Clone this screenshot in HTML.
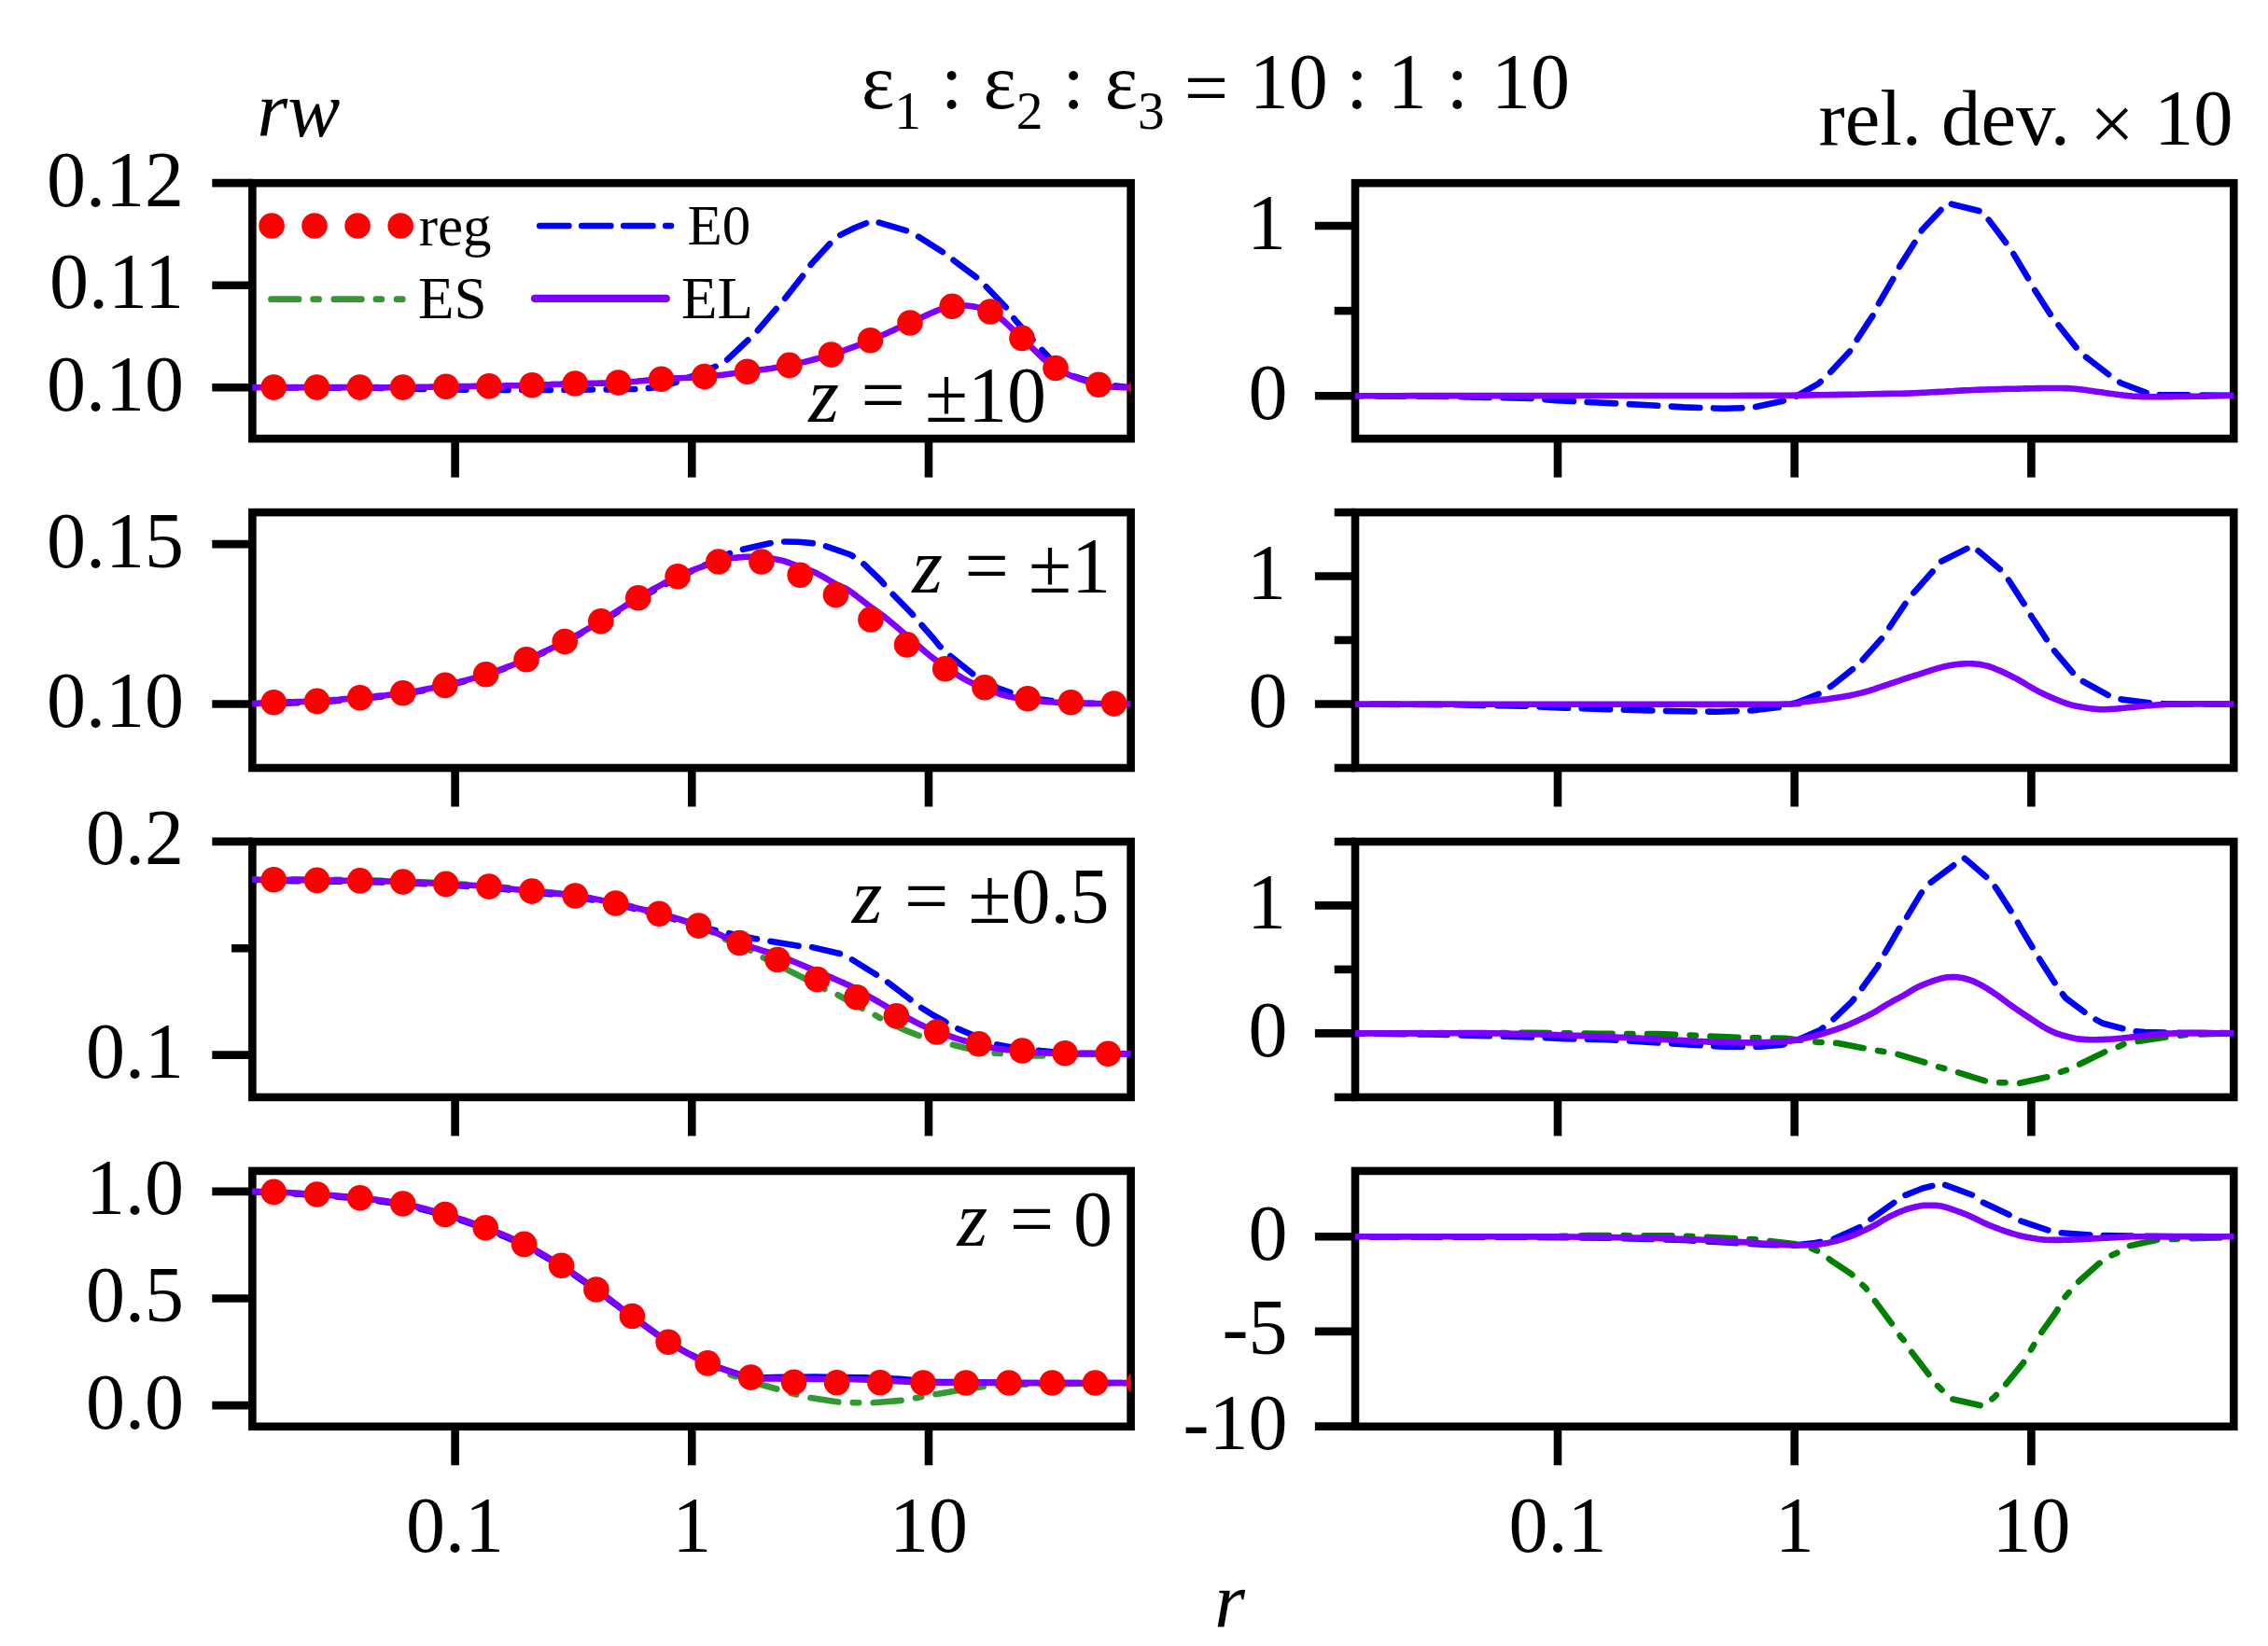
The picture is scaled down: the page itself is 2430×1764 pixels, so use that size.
<!DOCTYPE html><html><head><meta charset="utf-8"><title>rw</title>
<style>html,body{margin:0;padding:0;background:#fff;overflow:hidden}svg{display:block}text{font-family:"Liberation Serif",serif;fill:#000}.i{font-style:italic}</style></head><body>
<svg width="2430" height="1764" viewBox="0 0 2430 1764">
<rect width="2430" height="1764" fill="#fff"/>
<clipPath id="c00"><rect x="270.4" y="196.2" width="941.2" height="273.9"/></clipPath>
<clipPath id="c01"><rect x="1452.0" y="196.2" width="941.3" height="273.9"/></clipPath>
<clipPath id="c10"><rect x="270.4" y="549.1" width="941.2" height="273.9"/></clipPath>
<clipPath id="c11"><rect x="1452.0" y="549.1" width="941.3" height="273.9"/></clipPath>
<clipPath id="c20"><rect x="270.4" y="902.0" width="941.2" height="273.9"/></clipPath>
<clipPath id="c21"><rect x="1452.0" y="902.0" width="941.3" height="273.9"/></clipPath>
<clipPath id="c30"><rect x="270.4" y="1254.9" width="941.2" height="273.9"/></clipPath>
<clipPath id="c31"><rect x="1452.0" y="1254.9" width="941.3" height="273.9"/></clipPath>
<line x1="487.6" y1="470.1" x2="487.6" y2="511.6" stroke="#000" stroke-width="8.6"/>
<line x1="741.3" y1="470.1" x2="741.3" y2="511.6" stroke="#000" stroke-width="8.6"/>
<line x1="995.0" y1="470.1" x2="995.0" y2="511.6" stroke="#000" stroke-width="8.6"/>
<line x1="227.3" y1="196.1" x2="270.4" y2="196.1" stroke="#000" stroke-width="8.6"/>
<text x="196.9" y="220.6" font-size="84.0" text-anchor="end">0.12</text>
<line x1="227.3" y1="305.7" x2="270.4" y2="305.7" stroke="#000" stroke-width="8.6"/>
<text x="196.9" y="330.2" font-size="84.0" text-anchor="end">0.11</text>
<line x1="227.3" y1="415.3" x2="270.4" y2="415.3" stroke="#000" stroke-width="8.6"/>
<text x="196.9" y="439.8" font-size="84.0" text-anchor="end">0.10</text>
<line x1="1669.0" y1="470.1" x2="1669.0" y2="511.6" stroke="#000" stroke-width="8.6"/>
<line x1="1922.7" y1="470.1" x2="1922.7" y2="511.6" stroke="#000" stroke-width="8.6"/>
<line x1="2176.4" y1="470.1" x2="2176.4" y2="511.6" stroke="#000" stroke-width="8.6"/>
<line x1="1408.9" y1="242.0" x2="1452.0" y2="242.0" stroke="#000" stroke-width="8.6"/>
<text x="1378.0" y="266.5" font-size="84.0" text-anchor="end">1</text>
<line x1="1429.7" y1="333.1" x2="1452.0" y2="333.1" stroke="#000" stroke-width="8.6"/>
<line x1="1408.9" y1="424.2" x2="1452.0" y2="424.2" stroke="#000" stroke-width="8.6"/>
<text x="1379.5" y="448.7" font-size="84.0" text-anchor="end">0</text>
<line x1="487.6" y1="823.0" x2="487.6" y2="864.5" stroke="#000" stroke-width="8.6"/>
<line x1="741.3" y1="823.0" x2="741.3" y2="864.5" stroke="#000" stroke-width="8.6"/>
<line x1="995.0" y1="823.0" x2="995.0" y2="864.5" stroke="#000" stroke-width="8.6"/>
<line x1="227.3" y1="583.1" x2="270.4" y2="583.1" stroke="#000" stroke-width="8.6"/>
<text x="196.9" y="607.6" font-size="84.0" text-anchor="end">0.15</text>
<line x1="227.3" y1="754.5" x2="270.4" y2="754.5" stroke="#000" stroke-width="8.6"/>
<text x="196.9" y="779.0" font-size="84.0" text-anchor="end">0.10</text>
<line x1="1669.0" y1="823.0" x2="1669.0" y2="864.5" stroke="#000" stroke-width="8.6"/>
<line x1="1922.7" y1="823.0" x2="1922.7" y2="864.5" stroke="#000" stroke-width="8.6"/>
<line x1="2176.4" y1="823.0" x2="2176.4" y2="864.5" stroke="#000" stroke-width="8.6"/>
<line x1="1429.7" y1="549.1" x2="1452.0" y2="549.1" stroke="#000" stroke-width="8.6"/>
<line x1="1408.9" y1="617.5" x2="1452.0" y2="617.5" stroke="#000" stroke-width="8.6"/>
<text x="1378.0" y="642.0" font-size="84.0" text-anchor="end">1</text>
<line x1="1429.7" y1="686.0" x2="1452.0" y2="686.0" stroke="#000" stroke-width="8.6"/>
<line x1="1408.9" y1="754.5" x2="1452.0" y2="754.5" stroke="#000" stroke-width="8.6"/>
<text x="1379.5" y="779.0" font-size="84.0" text-anchor="end">0</text>
<line x1="1429.7" y1="823.0" x2="1452.0" y2="823.0" stroke="#000" stroke-width="8.6"/>
<line x1="487.6" y1="1175.9" x2="487.6" y2="1217.4" stroke="#000" stroke-width="8.6"/>
<line x1="741.3" y1="1175.9" x2="741.3" y2="1217.4" stroke="#000" stroke-width="8.6"/>
<line x1="995.0" y1="1175.9" x2="995.0" y2="1217.4" stroke="#000" stroke-width="8.6"/>
<line x1="227.3" y1="901.9" x2="270.4" y2="901.9" stroke="#000" stroke-width="8.6"/>
<text x="196.9" y="926.4" font-size="84.0" text-anchor="end">0.2</text>
<line x1="248.1" y1="1016.3" x2="270.4" y2="1016.3" stroke="#000" stroke-width="8.6"/>
<line x1="227.3" y1="1130.6" x2="270.4" y2="1130.6" stroke="#000" stroke-width="8.6"/>
<text x="196.9" y="1155.1" font-size="84.0" text-anchor="end">0.1</text>
<line x1="1669.0" y1="1175.9" x2="1669.0" y2="1217.4" stroke="#000" stroke-width="8.6"/>
<line x1="1922.7" y1="1175.9" x2="1922.7" y2="1217.4" stroke="#000" stroke-width="8.6"/>
<line x1="2176.4" y1="1175.9" x2="2176.4" y2="1217.4" stroke="#000" stroke-width="8.6"/>
<line x1="1429.7" y1="902.0" x2="1452.0" y2="902.0" stroke="#000" stroke-width="8.6"/>
<line x1="1408.9" y1="970.4" x2="1452.0" y2="970.4" stroke="#000" stroke-width="8.6"/>
<text x="1378.0" y="994.9" font-size="84.0" text-anchor="end">1</text>
<line x1="1429.7" y1="1038.9" x2="1452.0" y2="1038.9" stroke="#000" stroke-width="8.6"/>
<line x1="1408.9" y1="1107.4" x2="1452.0" y2="1107.4" stroke="#000" stroke-width="8.6"/>
<text x="1379.5" y="1131.9" font-size="84.0" text-anchor="end">0</text>
<line x1="1429.7" y1="1175.9" x2="1452.0" y2="1175.9" stroke="#000" stroke-width="8.6"/>
<line x1="487.6" y1="1528.8" x2="487.6" y2="1570.3" stroke="#000" stroke-width="8.6"/>
<line x1="741.3" y1="1528.8" x2="741.3" y2="1570.3" stroke="#000" stroke-width="8.6"/>
<line x1="995.0" y1="1528.8" x2="995.0" y2="1570.3" stroke="#000" stroke-width="8.6"/>
<text x="487.6" y="1663.0" font-size="84.0" text-anchor="middle">0.1</text>
<text x="741.3" y="1663.0" font-size="84.0" text-anchor="middle">1</text>
<text x="995.0" y="1663.0" font-size="84.0" text-anchor="middle">10</text>
<line x1="227.3" y1="1276.9" x2="270.4" y2="1276.9" stroke="#000" stroke-width="8.6"/>
<text x="196.9" y="1301.4" font-size="84.0" text-anchor="end">1.0</text>
<line x1="227.3" y1="1391.5" x2="270.4" y2="1391.5" stroke="#000" stroke-width="8.6"/>
<text x="196.9" y="1416.0" font-size="84.0" text-anchor="end">0.5</text>
<line x1="227.3" y1="1506.1" x2="270.4" y2="1506.1" stroke="#000" stroke-width="8.6"/>
<text x="196.9" y="1530.6" font-size="84.0" text-anchor="end">0.0</text>
<line x1="1669.0" y1="1528.8" x2="1669.0" y2="1570.3" stroke="#000" stroke-width="8.6"/>
<line x1="1922.7" y1="1528.8" x2="1922.7" y2="1570.3" stroke="#000" stroke-width="8.6"/>
<line x1="2176.4" y1="1528.8" x2="2176.4" y2="1570.3" stroke="#000" stroke-width="8.6"/>
<text x="1669.0" y="1663.0" font-size="84.0" text-anchor="middle">0.1</text>
<text x="1922.7" y="1663.0" font-size="84.0" text-anchor="middle">1</text>
<text x="2176.4" y="1663.0" font-size="84.0" text-anchor="middle">10</text>
<line x1="1408.9" y1="1325.3" x2="1452.0" y2="1325.3" stroke="#000" stroke-width="8.6"/>
<text x="1379.5" y="1349.8" font-size="84.0" text-anchor="end">0</text>
<line x1="1408.9" y1="1426.9" x2="1452.0" y2="1426.9" stroke="#000" stroke-width="8.6"/>
<text x="1379.5" y="1451.4" font-size="84.0" text-anchor="end">-5</text>
<line x1="1408.9" y1="1528.6" x2="1452.0" y2="1528.6" stroke="#000" stroke-width="8.6"/>
<text x="1379.5" y="1553.1" font-size="84.0" text-anchor="end">-10</text>
<rect x="270.4" y="196.2" width="941.2" height="273.9" fill="none" stroke="#000" stroke-width="8.6"/>
<rect x="1452.0" y="196.2" width="941.3" height="273.9" fill="none" stroke="#000" stroke-width="8.6"/>
<rect x="270.4" y="549.1" width="941.2" height="273.9" fill="none" stroke="#000" stroke-width="8.6"/>
<rect x="1452.0" y="549.1" width="941.3" height="273.9" fill="none" stroke="#000" stroke-width="8.6"/>
<rect x="270.4" y="902.0" width="941.2" height="273.9" fill="none" stroke="#000" stroke-width="8.6"/>
<rect x="1452.0" y="902.0" width="941.3" height="273.9" fill="none" stroke="#000" stroke-width="8.6"/>
<rect x="270.4" y="1254.9" width="941.2" height="273.9" fill="none" stroke="#000" stroke-width="8.6"/>
<rect x="1452.0" y="1254.9" width="941.3" height="273.9" fill="none" stroke="#000" stroke-width="8.6"/>
<g clip-path="url(#c00)" fill="none" stroke-width="6.6" stroke-linecap="round" stroke-linejoin="round">
<path d="M270.4 415.3 L400.0 415.8 L450.0 417.0 L500.0 417.8 L600.0 418.0 L680.0 417.0 L700.0 415.5 L722.0 410.5 L745.0 402.0 L767.8 392.3 L778.7 385.9 L809.7 356.7 L840.0 321.2 L860.0 295.7 L869.2 282.9 L889.2 261.1 L898.3 252.9 L915.0 244.5 L930.2 238.3 L934.5 236.3 L943.0 238.9 L974.9 248.3 L985.8 254.7 L1013.1 272.0 L1022.2 279.3 L1047.7 298.4 L1056.9 307.5 L1078.7 330.3 L1087.8 343.1 L1100.0 357.0 L1120.6 379.5 L1131.0 391.0 L1150.0 403.0 L1177.0 411.5 L1211.6 415.3" stroke="#0000ff" stroke-dasharray="30.5 14.7" stroke-dashoffset="-17.7"/>
<path d="M270.4 415.3 L272.2 415.3 L273.9 415.3 L275.6 415.2 L277.2 415.2 L278.8 415.2 L280.4 415.2 L282.1 415.2 L283.9 415.2 L285.9 415.1 L288.1 415.1 L290.6 415.1 L293.3 415.1 L296.3 415.1 L299.6 415.1 L303.2 415.1 L306.9 415.1 L310.9 415.1 L314.9 415.1 L319.0 415.1 L323.2 415.1 L327.3 415.1 L331.4 415.1 L335.5 415.1 L339.4 415.1 L343.2 415.1 L347.1 415.1 L350.9 415.1 L354.8 415.1 L358.6 415.1 L362.4 415.1 L366.3 415.1 L370.1 415.1 L374.0 415.1 L377.8 415.1 L381.7 415.1 L385.5 415.1 L389.3 415.1 L393.2 415.1 L397.0 415.1 L400.9 415.1 L404.7 415.1 L408.5 415.2 L412.4 415.2 L416.2 415.2 L420.1 415.2 L423.9 415.1 L427.8 415.1 L431.6 415.1 L435.5 415.1 L439.3 415.0 L443.2 415.0 L447.0 414.9 L450.9 414.8 L454.8 414.7 L458.6 414.7 L462.5 414.6 L466.3 414.5 L470.2 414.4 L474.0 414.4 L477.9 414.3 L481.7 414.2 L485.6 414.2 L489.4 414.1 L493.3 414.1 L497.1 414.1 L501.0 414.0 L504.8 414.0 L508.6 413.9 L512.5 413.9 L516.3 413.8 L520.2 413.8 L524.0 413.7 L527.8 413.6 L531.7 413.6 L535.5 413.5 L539.4 413.5 L543.2 413.4 L547.0 413.3 L550.9 413.3 L554.7 413.2 L558.6 413.1 L562.4 413.0 L566.3 412.9 L570.1 412.8 L573.9 412.7 L577.8 412.5 L581.6 412.4 L585.5 412.2 L589.3 412.1 L593.1 411.9 L597.0 411.7 L600.8 411.6 L604.7 411.4 L608.5 411.3 L612.4 411.1 L616.2 411.0 L620.1 410.9 L623.9 410.8 L627.8 410.8 L631.6 410.7 L635.5 410.7 L639.4 410.7 L643.2 410.6 L647.1 410.6 L650.9 410.5 L654.8 410.4 L658.6 410.3 L662.5 410.1 L666.3 409.9 L670.2 409.6 L674.0 409.3 L677.9 409.0 L681.7 408.7 L685.6 408.3 L689.4 408.0 L693.2 407.6 L697.1 407.2 L700.9 406.9 L704.8 406.6 L708.6 406.3 L712.4 406.0 L716.3 405.8 L720.1 405.6 L724.0 405.4 L727.8 405.2 L731.7 405.0 L735.5 404.9 L739.3 404.7 L743.2 404.4 L747.0 404.2 L750.9 403.9 L754.7 403.6 L758.5 403.3 L762.4 402.9 L766.2 402.5 L770.0 402.1 L773.9 401.7 L777.7 401.2 L781.5 400.8 L785.4 400.3 L789.2 399.8 L793.0 399.3 L796.8 398.8 L800.6 398.3 L804.4 397.8 L808.2 397.3 L811.9 396.8 L815.7 396.3 L819.5 395.8 L823.2 395.2 L827.0 394.7 L830.7 394.1 L834.5 393.5 L838.2 392.8 L842.0 392.1 L845.7 391.4 L849.5 390.6 L853.2 389.8 L857.0 389.0 L860.8 388.1 L864.6 387.2 L868.4 386.3 L872.1 385.3 L875.9 384.3 L879.6 383.3 L883.3 382.3 L887.0 381.2 L890.6 380.1 L894.2 379.0 L897.8 377.8 L901.3 376.6 L904.8 375.4 L908.2 374.2 L911.7 372.9 L915.2 371.6 L918.6 370.3 L922.1 369.0 L925.5 367.6 L929.0 366.2 L932.5 364.8 L936.0 363.4 L939.5 361.9 L943.0 360.3 L946.5 358.8 L950.0 357.2 L953.5 355.6 L957.1 353.9 L960.6 352.3 L964.2 350.7 L967.8 349.1 L971.4 347.5 L975.0 346.0 L978.7 344.4 L982.4 342.7 L986.2 340.9 L990.0 339.1 L993.9 337.3 L997.7 335.6 L1001.5 333.9 L1005.4 332.3 L1009.1 331.0 L1012.9 329.8 L1016.6 328.9 L1020.2 328.2 L1023.8 327.8 L1027.3 327.5 L1030.9 327.5 L1034.4 327.5 L1037.9 327.8 L1041.3 328.2 L1044.7 328.8 L1048.1 329.5 L1051.4 330.4 L1054.6 331.5 L1057.9 332.7 L1061.0 334.0 L1064.1 335.6 L1067.0 337.4 L1069.9 339.4 L1072.8 341.7 L1075.5 344.0 L1078.3 346.6 L1081.0 349.2 L1083.8 351.8 L1086.5 354.5 L1089.3 357.2 L1092.1 359.8 L1095.0 362.4 L1097.9 365.0 L1100.8 367.7 L1103.6 370.5 L1106.5 373.4 L1109.3 376.2 L1112.2 379.1 L1115.2 382.0 L1118.2 384.7 L1121.2 387.4 L1124.4 389.9 L1127.6 392.3 L1131.0 394.5 L1134.5 396.5 L1138.2 398.5 L1142.1 400.3 L1146.0 402.0 L1150.1 403.6 L1154.1 405.2 L1158.2 406.6 L1162.2 407.9 L1166.2 409.1 L1170.0 410.3 L1173.6 411.3 L1177.1 412.2 L1180.4 413.0 L1183.7 413.6 L1186.9 414.1 L1190.1 414.5 L1193.1 414.7 L1196.1 414.9 L1199.0 415.0 L1201.7 415.1 L1204.4 415.2 L1206.9 415.2 L1209.3 415.3 L1211.6 415.4 L1213.7 415.5 L1215.6 415.6 L1217.3 415.6 L1218.9 415.6 L1220.4 415.6 L1221.8 415.6 L1223.1 415.6 L1224.5 415.5 L1225.8 415.5 L1227.1 415.4 L1228.5 415.4 L1230.0 415.4" stroke="#7f00ff"/>
</g>
<g clip-path="url(#c01)" fill="none" stroke-width="6.6" stroke-linecap="round" stroke-linejoin="round">
<path d="M1452.0 424.2 L1560.0 425.0 L1640.0 426.9 L1667.3 429.1 L1712.9 431.5 L1758.5 433.8 L1804.0 436.4 L1847.7 437.8 L1876.9 436.9 L1907.9 430.2 L1920.6 426.9 L1948.0 411.4 L1958.0 402.3 L1981.7 376.8 L1989.0 365.0 L2008.1 335.8 L2012.7 325.8 L2029.1 297.5 L2035.4 285.3 L2051.9 259.2 L2059.2 246.5 L2080.1 224.3 L2086.4 217.6 L2092.9 219.2 L2118.4 225.5 L2124.3 227.0 L2129.3 233.7 L2148.5 259.2 L2155.7 269.3 L2173.1 298.4 L2178.5 308.4 L2196.7 336.7 L2204.9 347.6 L2224.1 371.9 L2233.2 381.3 L2260.5 402.3 L2272.4 410.5 L2303.4 422.3 L2316.1 423.3 L2339.8 423.3 L2393.6 423.8" stroke="#0000ff" stroke-dasharray="30.5 14.7" stroke-dashoffset="-22.7"/>
<path d="M1452.0 424.2 L1472.8 424.2 L1493.9 424.2 L1515.1 424.1 L1536.4 424.1 L1557.8 424.1 L1579.0 424.1 L1600.1 424.1 L1620.9 424.1 L1641.4 424.1 L1661.4 424.0 L1681.0 424.0 L1700.0 424.0 L1718.6 424.0 L1736.9 424.0 L1755.0 424.0 L1772.8 424.0 L1790.3 424.0 L1807.4 424.0 L1824.1 424.0 L1840.3 424.0 L1856.0 424.0 L1871.3 423.9 L1885.9 423.9 L1900.0 423.8 L1913.6 423.7 L1926.8 423.6 L1939.6 423.4 L1952.0 423.2 L1963.9 423.1 L1975.2 422.9 L1986.0 422.7 L1996.2 422.5 L2005.7 422.3 L2014.6 422.1 L2022.7 421.9 L2030.0 421.8 L2036.3 421.7 L2041.3 421.6 L2045.3 421.5 L2048.5 421.4 L2051.1 421.3 L2053.1 421.2 L2054.9 421.1 L2056.6 421.0 L2058.5 420.9 L2060.6 420.8 L2063.1 420.7 L2066.4 420.5 L2070.1 420.3 L2074.1 420.1 L2078.2 419.9 L2082.4 419.7 L2086.7 419.4 L2091.2 419.2 L2095.6 418.9 L2100.1 418.6 L2104.5 418.4 L2108.9 418.2 L2113.3 418.0 L2117.5 417.8 L2121.7 417.6 L2126.1 417.5 L2130.4 417.4 L2134.9 417.2 L2139.2 417.1 L2143.6 417.0 L2147.8 416.9 L2152.0 416.8 L2156.0 416.7 L2159.8 416.7 L2163.4 416.6 L2166.7 416.5 L2169.7 416.4 L2172.5 416.4 L2175.1 416.3 L2177.4 416.2 L2179.6 416.2 L2181.7 416.1 L2183.7 416.1 L2185.7 416.1 L2187.7 416.0 L2189.7 416.0 L2191.8 416.0 L2194.0 416.0 L2196.3 416.0 L2198.5 416.0 L2200.8 416.0 L2203.1 416.0 L2205.4 416.0 L2207.6 416.0 L2209.9 416.0 L2212.2 416.1 L2214.5 416.1 L2216.7 416.2 L2219.0 416.4 L2221.3 416.5 L2223.6 416.7 L2225.9 416.9 L2228.2 417.2 L2230.6 417.5 L2232.9 417.8 L2235.2 418.1 L2237.5 418.4 L2239.8 418.7 L2242.1 419.1 L2244.3 419.4 L2246.5 419.7 L2248.7 420.0 L2250.8 420.3 L2252.9 420.6 L2254.9 420.9 L2256.9 421.2 L2258.9 421.5 L2260.9 421.8 L2262.8 422.0 L2264.8 422.3 L2266.7 422.6 L2268.6 422.8 L2270.5 423.1 L2272.4 423.3 L2274.3 423.5 L2276.1 423.7 L2277.9 423.9 L2279.6 424.1 L2281.3 424.2 L2283.1 424.4 L2284.8 424.6 L2286.6 424.7 L2288.4 424.8 L2290.3 424.9 L2292.2 425.0 L2294.2 425.1 L2296.3 425.2 L2298.3 425.2 L2300.4 425.2 L2302.6 425.2 L2304.8 425.2 L2307.0 425.2 L2309.3 425.2 L2311.6 425.2 L2314.0 425.2 L2316.4 425.1 L2319.0 425.1 L2321.6 425.1 L2324.3 425.1 L2327.2 425.1 L2330.1 425.0 L2333.1 425.0 L2336.2 425.0 L2339.3 425.0 L2342.4 424.9 L2345.6 424.9 L2348.7 424.8 L2351.9 424.8 L2355.0 424.8 L2358.0 424.7 L2361.0 424.6 L2364.0 424.6 L2367.0 424.5 L2369.9 424.4 L2372.9 424.4 L2375.9 424.3 L2378.8 424.2 L2381.8 424.1 L2384.7 424.0 L2387.7 424.0 L2390.6 423.9 L2393.6 423.8" stroke="#7f00ff"/>
</g>
<g clip-path="url(#c10)" fill="none" stroke-width="6.6" stroke-linecap="round" stroke-linejoin="round">
<path d="M270.4 754.3 L293.3 753.9 L339.6 752.6 L385.7 748.9 L431.7 744.0 L476.9 735.6 L520.6 724.0 L564.0 707.9 L605.2 688.8 L643.8 666.9 L683.8 642.0 L726.1 619.0 L760.0 603.5 L782.2 592.8 L794.1 589.2 L827.8 581.5 L838.7 580.5 L855.1 580.8 L872.4 582.3 L882.6 584.6 L911.3 594.5 L921.8 601.0 L944.1 622.5 L953.7 633.9 L976.9 657.5 L984.7 666.7 L1000.0 684.0 L1005.8 691.3 L1014.9 700.4 L1042.2 722.2 L1069.6 737.7 L1087.8 744.1 L1115.1 749.6 L1129.7 751.4 L1151.6 753.6 L1211.7 754.3" stroke="#0000ff" stroke-dasharray="30.5 14.7" stroke-dashoffset="-18.1"/>
<path d="M270.4 754.1 L272.2 754.0 L273.9 753.9 L275.6 753.7 L277.2 753.6 L278.8 753.5 L280.4 753.4 L282.1 753.3 L283.9 753.2 L285.9 753.0 L288.1 752.9 L290.6 752.8 L293.3 752.7 L296.3 752.6 L299.7 752.5 L303.2 752.4 L307.0 752.3 L310.9 752.3 L315.0 752.2 L319.1 752.1 L323.3 752.0 L327.5 751.9 L331.6 751.8 L335.7 751.6 L339.6 751.4 L343.4 751.2 L347.3 750.9 L351.1 750.7 L355.0 750.4 L358.8 750.1 L362.7 749.8 L366.5 749.4 L370.3 749.1 L374.2 748.8 L378.0 748.4 L381.9 748.1 L385.7 747.7 L389.5 747.3 L393.4 747.0 L397.2 746.6 L401.1 746.3 L404.9 745.9 L408.8 745.5 L412.6 745.2 L416.4 744.7 L420.3 744.3 L424.1 743.8 L427.9 743.3 L431.7 742.8 L435.5 742.2 L439.3 741.6 L443.1 741.0 L446.9 740.4 L450.7 739.7 L454.4 739.0 L458.2 738.3 L462.0 737.6 L465.7 736.8 L469.5 736.0 L473.2 735.2 L476.9 734.4 L480.6 733.6 L484.3 732.7 L487.9 731.8 L491.6 730.9 L495.2 730.0 L498.9 729.1 L502.5 728.1 L506.1 727.1 L509.7 726.1 L513.4 725.0 L517.0 723.9 L520.6 722.8 L524.2 721.6 L527.9 720.4 L531.5 719.2 L535.2 717.9 L538.8 716.6 L542.5 715.2 L546.1 713.8 L549.7 712.5 L553.3 711.0 L556.9 709.6 L560.5 708.2 L564.0 706.7 L567.5 705.2 L571.0 703.7 L574.5 702.2 L578.0 700.7 L581.5 699.1 L584.9 697.5 L588.3 695.9 L591.7 694.3 L595.1 692.6 L598.5 691.0 L601.9 689.3 L605.2 687.6 L608.5 685.9 L611.8 684.1 L615.0 682.4 L618.2 680.6 L621.4 678.8 L624.6 677.0 L627.7 675.2 L630.9 673.3 L634.1 671.5 L637.3 669.6 L640.5 667.6 L643.8 665.7 L647.1 663.7 L650.4 661.7 L653.6 659.6 L656.9 657.6 L660.3 655.4 L663.6 653.3 L666.9 651.2 L670.2 649.1 L673.6 647.0 L677.0 644.9 L680.4 642.8 L683.8 640.8 L687.2 638.8 L690.7 636.8 L694.2 634.8 L697.7 632.7 L701.2 630.7 L704.7 628.8 L708.3 626.8 L711.8 624.9 L715.4 623.0 L718.9 621.2 L722.5 619.5 L726.1 617.8 L729.7 616.2 L733.5 614.6 L737.3 613.0 L741.2 611.4 L745.1 609.9 L748.9 608.5 L752.7 607.1 L756.4 605.8 L760.0 604.6 L763.5 603.5 L766.7 602.4 L769.8 601.5 L772.7 600.7 L775.4 600.0 L777.9 599.4 L780.3 598.9 L782.6 598.5 L784.8 598.1 L787.0 597.8 L789.0 597.6 L791.0 597.4 L793.0 597.2 L794.9 597.1 L796.8 596.9 L798.7 596.8 L800.4 596.7 L802.1 596.7 L803.7 596.7 L805.2 596.7 L806.7 596.8 L808.2 596.9 L809.7 597.0 L811.2 597.1 L812.7 597.3 L814.3 597.4 L815.9 597.6 L817.6 597.8 L819.3 597.9 L821.0 598.1 L822.8 598.3 L824.6 598.4 L826.3 598.7 L828.1 598.9 L829.9 599.1 L831.7 599.4 L833.4 599.8 L835.2 600.1 L836.9 600.5 L838.6 600.9 L840.3 601.4 L842.1 602.0 L843.8 602.6 L845.5 603.2 L847.2 603.8 L848.9 604.4 L850.5 605.1 L852.2 605.7 L853.8 606.3 L855.4 606.9 L856.9 607.5 L858.4 608.0 L859.8 608.5 L861.1 608.9 L862.4 609.3 L863.7 609.7 L865.0 610.2 L866.2 610.6 L867.5 611.1 L868.9 611.6 L870.3 612.1 L871.7 612.8 L873.3 613.5 L875.0 614.3 L876.8 615.3 L878.6 616.3 L880.6 617.4 L882.6 618.5 L884.6 619.7 L886.6 620.9 L888.5 622.0 L890.5 623.1 L892.3 624.2 L894.0 625.1 L895.6 626.0 L897.0 626.7 L898.3 627.4 L899.5 627.9 L900.6 628.4 L901.6 628.8 L902.6 629.2 L903.7 629.6 L904.7 630.1 L905.8 630.6 L907.0 631.3 L908.3 632.1 L909.8 633.0 L911.4 634.1 L913.2 635.4 L915.2 636.8 L917.2 638.4 L919.3 640.0 L921.4 641.6 L923.5 643.2 L925.6 644.9 L927.6 646.4 L929.5 647.9 L931.3 649.3 L932.9 650.5 L934.3 651.6 L935.7 652.5 L936.9 653.4 L938.0 654.1 L939.0 654.8 L940.0 655.5 L941.0 656.2 L941.9 656.9 L942.9 657.6 L944.0 658.3 L945.0 659.1 L946.2 660.0 L947.4 660.9 L948.6 661.9 L949.9 662.9 L951.1 663.9 L952.4 664.9 L953.6 666.0 L954.9 667.1 L956.3 668.2 L957.6 669.3 L959.1 670.5 L960.5 671.7 L962.0 673.0 L963.6 674.3 L965.2 675.8 L966.9 677.2 L968.7 678.8 L970.4 680.3 L972.3 681.9 L974.1 683.5 L975.9 685.1 L977.6 686.6 L979.4 688.1 L981.1 689.6 L982.7 691.0 L984.2 692.3 L985.7 693.6 L987.1 694.8 L988.5 696.0 L989.8 697.2 L991.1 698.3 L992.5 699.5 L993.9 700.6 L995.3 701.8 L996.8 703.0 L998.3 704.2 L1000.0 705.5 L1001.8 706.8 L1003.7 708.2 L1005.7 709.7 L1007.7 711.1 L1009.8 712.6 L1011.9 714.1 L1014.1 715.6 L1016.2 717.0 L1018.3 718.4 L1020.3 719.8 L1022.2 721.0 L1024.0 722.2 L1025.7 723.3 L1027.3 724.3 L1028.7 725.2 L1030.2 726.0 L1031.5 726.8 L1032.9 727.6 L1034.3 728.4 L1035.7 729.1 L1037.1 729.9 L1038.7 730.6 L1040.4 731.5 L1042.2 732.3 L1044.2 733.2 L1046.3 734.1 L1048.6 735.1 L1051.0 736.1 L1053.4 737.1 L1055.9 738.1 L1058.4 739.1 L1060.8 740.0 L1063.2 740.9 L1065.5 741.7 L1067.6 742.5 L1069.6 743.2 L1071.4 743.8 L1073.1 744.3 L1074.6 744.8 L1076.0 745.2 L1077.4 745.6 L1078.7 745.9 L1080.0 746.2 L1081.4 746.5 L1082.8 746.8 L1084.3 747.1 L1086.0 747.4 L1087.8 747.7 L1089.7 748.0 L1091.7 748.4 L1093.8 748.7 L1095.9 749.0 L1098.1 749.4 L1100.3 749.7 L1102.6 750.0 L1105.0 750.3 L1107.4 750.6 L1109.9 750.9 L1112.5 751.1 L1115.1 751.4 L1117.7 751.6 L1120.4 751.9 L1123.0 752.1 L1125.7 752.3 L1128.5 752.5 L1131.3 752.7 L1134.3 752.9 L1137.3 753.0 L1140.6 753.2 L1144.0 753.3 L1147.7 753.5 L1151.6 753.6 L1155.8 753.7 L1160.3 753.8 L1165.0 753.9 L1169.9 753.9 L1175.0 754.0 L1180.2 754.0 L1185.5 754.1 L1190.8 754.1 L1196.1 754.2 L1201.4 754.2 L1206.6 754.2 L1211.7 754.3" stroke="#7f00ff"/>
</g>
<g clip-path="url(#c11)" fill="none" stroke-width="6.6" stroke-linecap="round" stroke-linejoin="round">
<path d="M1452.0 754.6 L1560.0 755.2 L1640.0 756.9 L1676.4 758.7 L1722.0 760.1 L1767.6 761.4 L1804.0 762.3 L1840.5 762.7 L1876.9 761.4 L1906.1 757.8 L1924.3 753.2 L1949.8 743.2 L1962.6 735.0 L1984.4 717.7 L1994.4 708.6 L2016.3 684.0 L2024.5 672.1 L2041.0 647.5 L2050.0 635.7 L2071.0 612.0 L2079.2 602.0 L2108.4 587.4 L2113.2 585.0 L2119.3 590.1 L2143.0 610.2 L2151.2 620.2 L2169.4 648.4 L2175.8 659.4 L2193.1 685.8 L2200.4 696.7 L2220.4 720.4 L2230.5 729.5 L2260.5 745.9 L2273.3 749.6 L2306.1 753.6 L2317.9 754.1 L2339.8 754.5 L2393.6 754.5" stroke="#0000ff" stroke-dasharray="30.5 14.7" stroke-dashoffset="-16.7"/>
<path d="M1452.0 754.6 L1472.8 754.6 L1493.8 754.6 L1515.0 754.6 L1536.3 754.6 L1557.6 754.6 L1578.8 754.7 L1599.8 754.7 L1620.6 754.7 L1641.1 754.7 L1661.2 754.7 L1680.9 754.7 L1700.0 754.7 L1719.1 754.7 L1738.6 754.7 L1758.2 754.8 L1777.8 754.8 L1797.1 754.8 L1815.8 754.9 L1833.7 754.9 L1850.7 754.9 L1866.4 754.9 L1880.7 754.8 L1893.3 754.8 L1904.0 754.7 L1912.4 754.6 L1918.7 754.5 L1923.1 754.3 L1925.9 754.2 L1927.6 754.0 L1928.3 753.8 L1928.4 753.6 L1928.3 753.4 L1928.2 753.1 L1928.5 752.9 L1929.6 752.6 L1931.6 752.3 L1934.4 752.0 L1937.3 751.7 L1940.3 751.3 L1943.4 751.0 L1946.6 750.6 L1949.8 750.2 L1953.0 749.8 L1956.2 749.4 L1959.3 749.0 L1962.4 748.5 L1965.3 748.1 L1968.0 747.7 L1970.6 747.3 L1973.1 746.9 L1975.5 746.5 L1977.8 746.1 L1980.1 745.7 L1982.3 745.3 L1984.4 744.8 L1986.6 744.4 L1988.8 743.9 L1990.9 743.4 L1993.1 742.9 L1995.4 742.3 L1997.7 741.7 L2000.1 741.0 L2002.5 740.3 L2004.9 739.5 L2007.3 738.8 L2009.7 738.0 L2012.0 737.2 L2014.3 736.4 L2016.6 735.7 L2018.7 734.9 L2020.8 734.2 L2022.7 733.6 L2024.5 733.0 L2026.2 732.4 L2027.7 731.9 L2029.2 731.4 L2030.6 730.9 L2032.0 730.5 L2033.3 730.0 L2034.6 729.5 L2035.9 729.1 L2037.2 728.6 L2038.6 728.2 L2040.0 727.7 L2041.4 727.2 L2042.8 726.8 L2044.1 726.4 L2045.4 725.9 L2046.7 725.5 L2048.0 725.1 L2049.4 724.7 L2050.8 724.2 L2052.3 723.8 L2053.8 723.3 L2055.5 722.8 L2057.3 722.2 L2059.2 721.6 L2061.3 720.9 L2063.5 720.2 L2065.8 719.5 L2068.2 718.7 L2070.6 717.9 L2073.0 717.2 L2075.5 716.4 L2077.9 715.7 L2080.2 715.1 L2082.5 714.5 L2084.7 714.0 L2086.8 713.6 L2088.9 713.2 L2090.9 712.8 L2092.9 712.5 L2094.9 712.2 L2096.9 712.0 L2098.8 711.8 L2100.8 711.6 L2102.7 711.5 L2104.6 711.4 L2106.5 711.3 L2108.4 711.3 L2110.3 711.3 L2112.1 711.3 L2113.9 711.4 L2115.6 711.5 L2117.3 711.6 L2119.1 711.7 L2120.8 711.9 L2122.6 712.2 L2124.4 712.6 L2126.3 713.0 L2128.2 713.4 L2130.2 714.0 L2132.3 714.7 L2134.4 715.4 L2136.7 716.2 L2138.9 717.2 L2141.2 718.1 L2143.6 719.1 L2145.9 720.2 L2148.3 721.3 L2150.6 722.5 L2153.0 723.6 L2155.3 724.8 L2157.6 725.9 L2159.9 727.1 L2162.2 728.3 L2164.4 729.6 L2166.7 730.9 L2169.0 732.3 L2171.3 733.7 L2173.5 735.0 L2175.8 736.4 L2178.1 737.7 L2180.4 739.0 L2182.6 740.2 L2184.9 741.4 L2187.2 742.5 L2189.6 743.7 L2191.9 744.8 L2194.3 745.9 L2196.7 746.9 L2199.1 748.0 L2201.5 749.0 L2203.8 749.9 L2206.0 750.8 L2208.2 751.7 L2210.2 752.5 L2212.2 753.2 L2214.0 753.8 L2215.8 754.4 L2217.4 754.9 L2219.0 755.4 L2220.5 755.7 L2221.9 756.1 L2223.3 756.4 L2224.7 756.7 L2226.1 757.0 L2227.6 757.2 L2229.0 757.5 L2230.5 757.8 L2232.0 758.1 L2233.5 758.3 L2235.1 758.6 L2236.6 758.8 L2238.1 759.1 L2239.6 759.3 L2241.1 759.5 L2242.6 759.6 L2244.2 759.8 L2245.7 759.9 L2247.2 760.0 L2248.7 760.1 L2250.2 760.2 L2251.7 760.2 L2253.2 760.2 L2254.8 760.2 L2256.3 760.2 L2257.8 760.1 L2259.3 760.0 L2260.8 760.0 L2262.3 759.9 L2263.9 759.8 L2265.4 759.7 L2266.9 759.6 L2268.4 759.5 L2269.8 759.4 L2271.2 759.3 L2272.6 759.1 L2274.0 759.0 L2275.4 758.8 L2276.9 758.7 L2278.4 758.5 L2279.9 758.3 L2281.5 758.1 L2283.3 758.0 L2285.1 757.8 L2287.1 757.6 L2289.1 757.4 L2291.3 757.2 L2293.6 757.0 L2295.9 756.8 L2298.2 756.5 L2300.6 756.3 L2303.0 756.1 L2305.4 755.9 L2307.8 755.7 L2310.2 755.5 L2312.5 755.4 L2314.7 755.3 L2316.7 755.2 L2318.7 755.0 L2320.6 755.0 L2322.5 754.9 L2324.5 754.8 L2326.6 754.7 L2328.7 754.7 L2331.1 754.6 L2333.7 754.6 L2336.6 754.5 L2339.8 754.5 L2343.4 754.5 L2347.2 754.4 L2351.4 754.4 L2355.8 754.4 L2360.3 754.4 L2365.0 754.4 L2369.8 754.5 L2374.7 754.5 L2379.5 754.5 L2384.3 754.5 L2389.0 754.5 L2393.6 754.5" stroke="#7f00ff"/>
</g>
<g clip-path="url(#c20)" fill="none" stroke-width="6.6" stroke-linecap="round" stroke-linejoin="round">
<path d="M270.4 942.6 L293.3 942.0 L339.6 942.6 L385.7 943.1 L431.7 944.2 L477.8 946.6 L523.9 949.3 L569.8 954.3 L616.3 959.2 L659.6 967.2 L706.2 978.5 L748.5 991.3 L776.8 1006.5 L804.1 1018.5 L816.9 1025.8 L844.2 1039.6 L858.8 1047.0 L884.3 1060.4 L897.0 1065.9 L924.4 1081.0 L937.1 1087.5 L942.6 1090.8 L964.0 1101.4 L969.9 1104.1 L986.3 1110.5 L1020.5 1119.6 L1035.0 1123.3 L1066.0 1128.7 L1073.3 1129.1 L1102.5 1131.5 L1115.2 1131.5 L1150.0 1130.0 L1211.8 1129.3" stroke="#339933" stroke-dasharray="30 15.6 6.3 15.6" stroke-dashoffset="-42.3"/>
<path d="M270.4 943.0 L293.3 943.8 L339.6 944.4 L385.7 944.9 L431.7 946.0 L477.8 948.4 L523.9 951.1 L569.8 956.1 L616.3 961.0 L659.6 969.0 L706.2 980.3 L748.5 993.1 L773.1 998.5 L807.7 1005.7 L824.1 1008.5 L856.9 1013.9 L868.8 1014.8 L900.7 1022.1 L911.6 1027.6 L938.0 1044.0 L948.1 1050.4 L974.5 1070.4 L983.6 1077.7 L1000.0 1088.0 L1011.3 1094.2 L1022.3 1100.8 L1038.7 1107.8 L1066.0 1119.0 L1078.8 1121.5 L1115.2 1126.1 L1140.0 1128.5 L1211.8 1129.3" stroke="#0000ff" stroke-dasharray="30.5 14.7" stroke-dashoffset="-18.9"/>
<path d="M270.4 942.8 L272.2 942.8 L273.9 942.8 L275.6 942.8 L277.2 942.8 L278.8 942.8 L280.4 942.8 L282.1 942.8 L283.9 942.8 L285.9 942.8 L288.1 942.8 L290.6 942.8 L293.3 942.8 L296.3 942.8 L299.7 942.9 L303.2 942.9 L307.0 943.0 L310.9 943.0 L315.0 943.1 L319.1 943.1 L323.3 943.2 L327.5 943.2 L331.6 943.3 L335.7 943.4 L339.6 943.4 L343.4 943.4 L347.3 943.5 L351.1 943.5 L355.0 943.6 L358.8 943.6 L362.7 943.6 L366.5 943.7 L370.3 943.7 L374.2 943.7 L378.0 943.8 L381.9 943.8 L385.7 943.9 L389.5 944.0 L393.4 944.0 L397.2 944.1 L401.0 944.2 L404.9 944.2 L408.7 944.3 L412.5 944.4 L416.4 944.5 L420.2 944.6 L424.0 944.7 L427.9 944.9 L431.7 945.0 L435.5 945.2 L439.4 945.3 L443.2 945.5 L447.1 945.7 L450.9 945.9 L454.7 946.1 L458.6 946.3 L462.4 946.5 L466.3 946.7 L470.1 947.0 L474.0 947.2 L477.8 947.4 L481.6 947.6 L485.5 947.8 L489.3 948.0 L493.2 948.2 L497.0 948.4 L500.9 948.6 L504.7 948.8 L508.5 949.0 L512.4 949.3 L516.2 949.5 L520.1 949.8 L523.9 950.1 L527.7 950.4 L531.6 950.8 L535.4 951.2 L539.2 951.6 L543.0 952.0 L546.8 952.5 L550.6 952.9 L554.5 953.4 L558.3 953.8 L562.1 954.2 L566.0 954.7 L569.8 955.1 L573.7 955.5 L577.6 955.9 L581.5 956.3 L585.4 956.6 L589.3 957.0 L593.2 957.4 L597.1 957.7 L601.0 958.1 L604.9 958.6 L608.7 959.0 L612.5 959.5 L616.3 960.0 L620.0 960.5 L623.7 961.1 L627.3 961.7 L630.8 962.3 L634.4 962.9 L637.9 963.6 L641.5 964.3 L645.0 965.0 L648.6 965.7 L652.2 966.4 L655.9 967.2 L659.6 968.0 L663.4 968.8 L667.2 969.7 L671.1 970.6 L675.0 971.5 L679.0 972.4 L683.0 973.4 L686.9 974.3 L690.9 975.3 L694.8 976.3 L698.6 977.3 L702.5 978.3 L706.2 979.3 L709.9 980.3 L713.5 981.3 L717.0 982.3 L720.6 983.2 L724.1 984.2 L727.5 985.2 L731.0 986.3 L734.4 987.4 L737.9 988.5 L741.4 989.6 L744.9 990.8 L748.5 992.1 L752.1 993.5 L755.7 994.9 L759.4 996.4 L763.1 998.0 L766.8 999.7 L770.5 1001.3 L774.2 1003.0 L777.9 1004.6 L781.5 1006.2 L785.1 1007.8 L788.7 1009.2 L792.3 1010.6 L795.9 1011.9 L799.5 1013.2 L803.2 1014.4 L806.9 1015.6 L810.6 1016.7 L814.2 1017.9 L817.7 1019.0 L821.2 1020.0 L824.5 1021.0 L827.6 1022.0 L830.6 1023.0 L833.3 1023.9 L835.7 1024.8 L837.9 1025.5 L839.7 1026.2 L841.4 1026.8 L842.9 1027.4 L844.4 1028.0 L845.9 1028.6 L847.4 1029.3 L849.0 1029.9 L850.8 1030.7 L852.8 1031.5 L855.1 1032.5 L857.7 1033.6 L860.6 1034.8 L863.7 1036.1 L867.0 1037.5 L870.4 1038.9 L873.8 1040.4 L877.2 1041.8 L880.6 1043.3 L884.0 1044.7 L887.1 1046.1 L890.1 1047.4 L892.9 1048.6 L895.5 1049.7 L898.0 1050.8 L900.4 1051.9 L902.7 1052.9 L905.0 1053.9 L907.1 1054.9 L909.2 1055.8 L911.1 1056.7 L913.0 1057.6 L914.8 1058.4 L916.4 1059.2 L918.0 1060.0 L919.4 1060.7 L920.5 1061.3 L921.5 1061.9 L922.3 1062.4 L923.1 1062.8 L923.7 1063.3 L924.4 1063.7 L925.1 1064.2 L925.9 1064.7 L926.9 1065.3 L928.0 1066.0 L929.3 1066.8 L930.9 1067.7 L932.7 1068.8 L934.6 1069.9 L936.7 1071.1 L938.9 1072.4 L941.1 1073.7 L943.4 1075.0 L945.5 1076.2 L947.6 1077.5 L949.6 1078.6 L951.4 1079.6 L953.0 1080.5 L954.4 1081.3 L955.5 1081.9 L956.5 1082.4 L957.4 1082.9 L958.3 1083.3 L959.0 1083.7 L959.8 1084.1 L960.5 1084.5 L961.3 1084.9 L962.3 1085.3 L963.3 1085.9 L964.5 1086.5 L965.8 1087.2 L967.3 1088.0 L968.8 1088.8 L970.5 1089.7 L972.1 1090.6 L973.8 1091.6 L975.6 1092.5 L977.3 1093.4 L979.0 1094.4 L980.7 1095.2 L982.4 1096.1 L984.0 1096.9 L985.6 1097.7 L987.1 1098.4 L988.6 1099.1 L990.2 1099.9 L991.7 1100.6 L993.2 1101.3 L994.7 1101.9 L996.2 1102.6 L997.7 1103.2 L999.2 1103.9 L1000.7 1104.5 L1002.2 1105.1 L1003.7 1105.7 L1005.2 1106.3 L1006.8 1106.8 L1008.3 1107.4 L1009.8 1107.9 L1011.4 1108.4 L1012.9 1108.9 L1014.4 1109.4 L1015.9 1109.9 L1017.5 1110.4 L1019.0 1110.9 L1020.5 1111.4 L1022.0 1111.9 L1023.4 1112.4 L1024.8 1112.8 L1026.2 1113.3 L1027.6 1113.7 L1029.0 1114.1 L1030.5 1114.6 L1032.0 1115.0 L1033.5 1115.5 L1035.1 1115.9 L1036.9 1116.4 L1038.7 1116.9 L1040.7 1117.4 L1042.7 1118.0 L1044.9 1118.5 L1047.1 1119.1 L1049.4 1119.7 L1051.8 1120.2 L1054.2 1120.8 L1056.6 1121.4 L1059.0 1121.9 L1061.3 1122.4 L1063.7 1122.9 L1066.0 1123.3 L1068.3 1123.7 L1070.5 1124.0 L1072.6 1124.3 L1074.8 1124.6 L1077.0 1124.9 L1079.1 1125.1 L1081.3 1125.3 L1083.6 1125.5 L1085.9 1125.8 L1088.3 1126.0 L1090.8 1126.2 L1093.4 1126.4 L1096.0 1126.6 L1098.4 1126.8 L1100.8 1127.1 L1103.2 1127.3 L1105.6 1127.5 L1108.2 1127.7 L1110.9 1127.9 L1114.0 1128.1 L1117.3 1128.3 L1121.0 1128.4 L1125.1 1128.6 L1129.8 1128.7 L1135.0 1128.8 L1140.8 1128.9 L1147.1 1129.0 L1153.8 1129.0 L1160.7 1129.1 L1168.0 1129.1 L1175.3 1129.1 L1182.8 1129.2 L1190.2 1129.2 L1197.6 1129.2 L1204.8 1129.3 L1211.8 1129.3" stroke="#7f00ff"/>
</g>
<g clip-path="url(#c21)" fill="none" stroke-width="6.6" stroke-linecap="round" stroke-linejoin="round">
<path d="M1452.0 1107.3 L1587.0 1107.0 L1640.0 1106.9 L1712.9 1107.8 L1776.7 1108.1 L1813.1 1109.6 L1849.6 1111.4 L1880.5 1112.3 L1913.3 1112.7 L1948.0 1116.9 L1968.0 1117.8 L1997.2 1123.3 L2015.4 1126.5 L2030.0 1128.8 L2062.8 1138.7 L2073.7 1142.4 L2096.5 1148.8 L2128.4 1158.8 L2139.3 1160.2 L2149.4 1160.2 L2163.0 1161.0 L2194.0 1154.2 L2204.9 1149.7 L2214.1 1146.9 L2225.9 1141.5 L2256.0 1126.9 L2268.7 1122.3 L2276.0 1118.7 L2290.6 1116.0 L2321.6 1111.4 L2343.4 1108.7 L2393.6 1107.4" stroke="#008000" stroke-dasharray="30 15.6 6.3 15.6" stroke-dashoffset="-43.0"/>
<path d="M1452.0 1107.5 L1533.0 1108.5 L1640.0 1111.5 L1676.4 1113.2 L1722.0 1114.1 L1767.6 1116.9 L1804.0 1119.2 L1847.7 1121.8 L1886.0 1121.8 L1909.7 1119.6 L1924.3 1115.1 L1949.8 1104.1 L1960.7 1095.9 L1984.4 1073.1 L1993.5 1061.3 L2011.8 1035.8 L2018.1 1023.9 L2034.5 995.7 L2041.8 984.8 L2058.2 957.4 L2066.4 947.4 L2095.6 925.5 L2104.1 919.2 L2108.4 922.8 L2133.9 944.7 L2141.2 955.6 L2159.4 983.9 L2165.8 995.7 L2182.2 1023.0 L2188.5 1033.1 L2204.9 1058.6 L2213.1 1069.5 L2241.4 1090.5 L2253.2 1096.8 L2285.1 1105.0 L2297.9 1106.0 L2328.9 1106.9 L2393.6 1107.2" stroke="#0000ff" stroke-dasharray="30.5 14.7" stroke-dashoffset="-23.0"/>
<path d="M1452.0 1107.4 L1464.2 1107.4 L1476.9 1107.4 L1489.9 1107.4 L1503.1 1107.4 L1516.3 1107.4 L1529.3 1107.3 L1542.0 1107.3 L1554.2 1107.3 L1565.7 1107.3 L1576.4 1107.3 L1586.0 1107.4 L1594.5 1107.4 L1601.7 1107.4 L1607.6 1107.5 L1612.5 1107.5 L1616.5 1107.6 L1619.9 1107.7 L1622.7 1107.7 L1625.3 1107.8 L1627.7 1107.9 L1630.3 1108.0 L1633.0 1108.1 L1636.2 1108.2 L1640.0 1108.3 L1644.2 1108.4 L1648.6 1108.5 L1653.0 1108.7 L1657.6 1108.8 L1662.1 1109.0 L1666.8 1109.1 L1671.4 1109.3 L1676.1 1109.4 L1680.8 1109.6 L1685.5 1109.8 L1690.1 1109.9 L1694.7 1110.1 L1699.3 1110.3 L1703.8 1110.4 L1708.4 1110.6 L1712.9 1110.8 L1717.5 1111.0 L1722.0 1111.1 L1726.5 1111.3 L1731.1 1111.5 L1735.6 1111.7 L1740.2 1111.9 L1744.7 1112.1 L1749.3 1112.3 L1753.9 1112.5 L1758.6 1112.7 L1763.4 1113.0 L1768.2 1113.2 L1773.0 1113.5 L1777.8 1113.7 L1782.5 1114.0 L1787.1 1114.2 L1791.6 1114.5 L1795.9 1114.7 L1800.1 1114.9 L1804.0 1115.1 L1807.7 1115.3 L1811.1 1115.5 L1814.4 1115.7 L1817.5 1115.8 L1820.5 1116.0 L1823.4 1116.1 L1826.2 1116.3 L1829.0 1116.4 L1831.8 1116.6 L1834.6 1116.7 L1837.5 1116.8 L1840.5 1116.9 L1843.5 1117.0 L1846.6 1117.1 L1849.6 1117.2 L1852.6 1117.2 L1855.7 1117.3 L1858.7 1117.4 L1861.7 1117.4 L1864.8 1117.4 L1867.8 1117.4 L1870.8 1117.4 L1873.9 1117.4 L1876.9 1117.4 L1880.0 1117.4 L1883.2 1117.3 L1886.4 1117.2 L1889.7 1117.1 L1893.0 1117.0 L1896.2 1116.9 L1899.4 1116.8 L1902.5 1116.6 L1905.5 1116.5 L1908.3 1116.3 L1910.9 1116.2 L1913.3 1116.0 L1915.5 1115.8 L1917.4 1115.6 L1919.1 1115.4 L1920.7 1115.2 L1922.2 1115.0 L1923.6 1114.8 L1924.9 1114.6 L1926.2 1114.3 L1927.5 1114.1 L1928.8 1113.8 L1930.1 1113.5 L1931.6 1113.2 L1933.1 1112.9 L1934.5 1112.6 L1935.9 1112.3 L1937.3 1112.0 L1938.7 1111.7 L1940.1 1111.3 L1941.6 1111.0 L1943.1 1110.6 L1944.6 1110.2 L1946.2 1109.7 L1948.0 1109.2 L1949.8 1108.7 L1951.8 1108.1 L1953.8 1107.5 L1956.0 1106.8 L1958.2 1106.1 L1960.5 1105.4 L1962.9 1104.7 L1965.3 1103.9 L1967.7 1103.1 L1970.1 1102.2 L1972.4 1101.4 L1974.8 1100.5 L1977.1 1099.6 L1979.4 1098.7 L1981.8 1097.7 L1984.2 1096.6 L1986.6 1095.5 L1989.0 1094.4 L1991.4 1093.3 L1993.7 1092.2 L1996.0 1091.1 L1998.3 1090.0 L2000.5 1088.9 L2002.5 1087.8 L2004.5 1086.8 L2006.3 1085.8 L2008.1 1084.9 L2009.7 1083.9 L2011.3 1083.0 L2012.8 1082.0 L2014.2 1081.1 L2015.6 1080.2 L2017.0 1079.4 L2018.4 1078.5 L2019.8 1077.6 L2021.2 1076.7 L2022.7 1075.9 L2024.2 1075.1 L2025.6 1074.3 L2027.1 1073.5 L2028.5 1072.7 L2030.0 1071.9 L2031.4 1071.1 L2032.8 1070.4 L2034.3 1069.6 L2035.7 1068.8 L2037.1 1068.1 L2038.6 1067.3 L2040.0 1066.5 L2041.4 1065.7 L2042.8 1064.9 L2044.1 1064.1 L2045.4 1063.2 L2046.7 1062.4 L2048.0 1061.6 L2049.4 1060.8 L2050.8 1059.9 L2052.3 1059.1 L2053.8 1058.3 L2055.5 1057.5 L2057.3 1056.7 L2059.2 1055.9 L2061.3 1055.0 L2063.5 1054.1 L2065.8 1053.2 L2068.2 1052.3 L2070.6 1051.4 L2073.0 1050.6 L2075.5 1049.8 L2077.9 1049.1 L2080.2 1048.5 L2082.5 1048.0 L2084.7 1047.6 L2086.8 1047.3 L2088.9 1047.2 L2090.9 1047.1 L2092.9 1047.1 L2094.8 1047.1 L2096.8 1047.2 L2098.7 1047.4 L2100.6 1047.7 L2102.6 1048.1 L2104.5 1048.5 L2106.4 1049.0 L2108.4 1049.5 L2110.4 1050.1 L2112.3 1050.8 L2114.3 1051.6 L2116.2 1052.5 L2118.1 1053.4 L2120.1 1054.4 L2122.0 1055.4 L2124.0 1056.5 L2126.0 1057.7 L2128.0 1058.8 L2130.0 1060.1 L2132.0 1061.3 L2134.1 1062.6 L2136.1 1064.0 L2138.2 1065.4 L2140.3 1066.9 L2142.4 1068.4 L2144.6 1070.0 L2146.7 1071.6 L2148.9 1073.2 L2151.0 1074.8 L2153.2 1076.4 L2155.4 1078.0 L2157.6 1079.5 L2159.9 1081.1 L2162.2 1082.7 L2164.6 1084.3 L2167.1 1086.0 L2169.6 1087.6 L2172.0 1089.3 L2174.5 1090.9 L2176.8 1092.4 L2179.1 1093.9 L2181.2 1095.3 L2183.1 1096.6 L2184.9 1097.7 L2186.5 1098.7 L2187.9 1099.6 L2189.1 1100.3 L2190.2 1101.0 L2191.2 1101.6 L2192.1 1102.2 L2193.0 1102.7 L2193.8 1103.1 L2194.7 1103.6 L2195.6 1104.0 L2196.6 1104.5 L2197.7 1105.0 L2198.8 1105.5 L2200.0 1106.0 L2201.1 1106.5 L2202.3 1106.9 L2203.4 1107.4 L2204.6 1107.8 L2205.8 1108.2 L2207.0 1108.6 L2208.3 1109.0 L2209.5 1109.4 L2210.9 1109.7 L2212.2 1110.1 L2213.6 1110.5 L2214.9 1110.8 L2216.3 1111.2 L2217.7 1111.6 L2219.1 1111.9 L2220.5 1112.3 L2222.0 1112.6 L2223.6 1112.9 L2225.2 1113.2 L2226.9 1113.4 L2228.6 1113.6 L2230.5 1113.8 L2232.5 1113.9 L2234.5 1114.0 L2236.7 1114.1 L2238.9 1114.2 L2241.2 1114.2 L2243.6 1114.2 L2246.0 1114.2 L2248.4 1114.1 L2250.8 1114.1 L2253.1 1114.0 L2255.5 1113.9 L2257.8 1113.8 L2260.1 1113.7 L2262.3 1113.5 L2264.6 1113.4 L2266.9 1113.2 L2269.2 1113.0 L2271.4 1112.8 L2273.7 1112.6 L2276.0 1112.3 L2278.3 1112.1 L2280.5 1111.9 L2282.8 1111.6 L2285.1 1111.4 L2287.4 1111.2 L2289.7 1110.9 L2291.9 1110.6 L2294.2 1110.3 L2296.5 1110.1 L2298.8 1109.8 L2301.1 1109.5 L2303.4 1109.2 L2305.7 1109.0 L2307.9 1108.7 L2310.2 1108.5 L2312.5 1108.3 L2314.7 1108.1 L2316.7 1108.0 L2318.7 1107.9 L2320.6 1107.7 L2322.5 1107.6 L2324.5 1107.6 L2326.6 1107.5 L2328.7 1107.4 L2331.1 1107.4 L2333.7 1107.3 L2336.6 1107.2 L2339.8 1107.2 L2343.4 1107.2 L2347.2 1107.1 L2351.4 1107.1 L2355.8 1107.1 L2360.3 1107.1 L2365.0 1107.1 L2369.8 1107.1 L2374.7 1107.2 L2379.5 1107.2 L2384.3 1107.2 L2389.0 1107.2 L2393.6 1107.2" stroke="#7f00ff"/>
</g>
<g clip-path="url(#c30)" fill="none" stroke-width="6.6" stroke-linecap="round" stroke-linejoin="round">
<path d="M270.4 1277.0 L293.3 1277.4 L339.6 1280.0 L385.7 1283.8 L431.7 1290.0 L476.9 1301.5 L520.2 1315.7 L561.6 1333.4 L601.5 1356.2 L638.9 1382.0 L677.4 1410.5 L716.1 1438.2 L758.2 1460.9 L778.6 1472.0 L815.0 1483.7 L831.4 1488.3 L851.5 1494.0 L867.9 1498.0 L898.9 1502.5 L917.1 1503.3 L935.3 1503.3 L966.3 1500.8 L982.7 1498.0 L1002.2 1494.2 L1035.0 1488.8 L1053.3 1486.0 L1075.1 1484.6 L1098.8 1483.8 L1148.0 1483.0 L1211.8 1482.3" stroke="#339933" stroke-dasharray="30 15.6 6.3 15.6" stroke-dashoffset="-43.3"/>
<path d="M270.4 1277.2 L293.3 1278.2 L339.6 1280.8 L385.7 1284.6 L431.7 1290.8 L476.9 1302.3 L520.2 1316.5 L561.6 1334.2 L601.5 1357.0 L638.9 1382.8 L677.4 1411.3 L716.1 1439.0 L758.2 1461.7 L804.5 1476.9 L827.8 1476.0 L873.3 1475.6 L928.0 1476.4 L964.5 1477.8 L1002.2 1480.8 L1100.0 1482.0 L1211.8 1482.0" stroke="#0000ff" stroke-dasharray="30.5 14.7" stroke-dashoffset="0.0"/>
<path d="M270.4 1277.0 L272.2 1277.0 L273.9 1277.0 L275.6 1277.0 L277.2 1277.1 L278.8 1277.1 L280.4 1277.1 L282.1 1277.1 L283.9 1277.1 L285.9 1277.1 L288.1 1277.2 L290.6 1277.3 L293.3 1277.4 L296.3 1277.5 L299.7 1277.7 L303.2 1277.9 L307.0 1278.1 L310.9 1278.3 L315.0 1278.5 L319.1 1278.7 L323.3 1279.0 L327.5 1279.2 L331.6 1279.5 L335.7 1279.7 L339.6 1280.0 L343.4 1280.3 L347.3 1280.5 L351.1 1280.8 L355.0 1281.1 L358.8 1281.4 L362.7 1281.7 L366.5 1282.0 L370.3 1282.3 L374.2 1282.7 L378.0 1283.0 L381.9 1283.4 L385.7 1283.8 L389.5 1284.2 L393.4 1284.6 L397.2 1285.1 L401.1 1285.5 L404.9 1285.9 L408.8 1286.4 L412.6 1286.9 L416.4 1287.5 L420.3 1288.0 L424.1 1288.6 L427.9 1289.3 L431.7 1290.0 L435.5 1290.8 L439.3 1291.6 L443.1 1292.4 L446.9 1293.3 L450.7 1294.3 L454.5 1295.2 L458.2 1296.2 L462.0 1297.3 L465.8 1298.3 L469.5 1299.4 L473.2 1300.4 L476.9 1301.5 L480.6 1302.6 L484.2 1303.7 L487.9 1304.8 L491.5 1305.9 L495.2 1307.0 L498.8 1308.2 L502.4 1309.4 L506.0 1310.6 L509.6 1311.8 L513.1 1313.1 L516.7 1314.4 L520.2 1315.7 L523.7 1317.0 L527.2 1318.4 L530.7 1319.8 L534.2 1321.2 L537.7 1322.6 L541.1 1324.0 L544.6 1325.5 L548.0 1327.0 L551.4 1328.5 L554.8 1330.1 L558.2 1331.7 L561.6 1333.4 L565.0 1335.1 L568.4 1336.9 L571.7 1338.7 L575.1 1340.5 L578.5 1342.4 L581.8 1344.3 L585.1 1346.2 L588.4 1348.2 L591.7 1350.2 L595.0 1352.2 L598.3 1354.2 L601.5 1356.2 L604.7 1358.2 L607.9 1360.3 L611.0 1362.4 L614.1 1364.5 L617.2 1366.6 L620.3 1368.7 L623.4 1370.9 L626.4 1373.1 L629.5 1375.3 L632.6 1377.5 L635.8 1379.7 L638.9 1382.0 L642.1 1384.3 L645.3 1386.6 L648.4 1389.0 L651.6 1391.3 L654.9 1393.7 L658.1 1396.1 L661.3 1398.5 L664.5 1401.0 L667.7 1403.4 L671.0 1405.8 L674.2 1408.1 L677.4 1410.5 L680.6 1412.9 L683.8 1415.2 L687.0 1417.6 L690.2 1420.0 L693.3 1422.4 L696.5 1424.7 L699.7 1427.1 L702.9 1429.4 L706.2 1431.6 L709.5 1433.9 L712.8 1436.1 L716.1 1438.2 L719.5 1440.3 L722.9 1442.4 L726.3 1444.4 L729.7 1446.4 L733.2 1448.4 L736.7 1450.3 L740.2 1452.2 L743.7 1454.1 L747.3 1455.9 L750.9 1457.6 L754.5 1459.3 L758.2 1460.9 L762.0 1462.5 L765.9 1464.0 L770.0 1465.6 L774.2 1467.0 L778.4 1468.5 L782.5 1469.8 L786.6 1471.1 L790.6 1472.3 L794.4 1473.5 L798.1 1474.5 L801.4 1475.3 L804.5 1476.1 L807.2 1476.7 L809.5 1477.1 L811.4 1477.4 L813.1 1477.6 L814.7 1477.7 L816.2 1477.7 L817.7 1477.6 L819.2 1477.5 L821.0 1477.5 L822.9 1477.4 L825.2 1477.4 L827.8 1477.4 L830.8 1477.5 L834.0 1477.5 L837.4 1477.6 L841.0 1477.6 L844.7 1477.7 L848.6 1477.7 L852.6 1477.7 L856.6 1477.7 L860.8 1477.8 L864.9 1477.8 L869.1 1477.9 L873.3 1477.9 L877.6 1477.9 L882.1 1478.0 L886.8 1478.0 L891.5 1478.1 L896.4 1478.1 L901.2 1478.2 L906.0 1478.2 L910.8 1478.3 L915.4 1478.3 L919.8 1478.4 L924.0 1478.5 L928.0 1478.6 L931.7 1478.7 L935.1 1478.8 L938.4 1479.0 L941.5 1479.1 L944.4 1479.3 L947.3 1479.5 L950.1 1479.6 L952.9 1479.8 L955.7 1480.0 L958.6 1480.1 L961.5 1480.3 L964.5 1480.4 L967.4 1480.5 L970.0 1480.6 L972.4 1480.8 L974.8 1480.9 L977.1 1481.0 L979.5 1481.1 L982.2 1481.2 L985.1 1481.3 L988.5 1481.4 L992.4 1481.5 L997.0 1481.5 L1002.2 1481.6 L1008.2 1481.7 L1014.9 1481.7 L1022.1 1481.8 L1029.8 1481.8 L1038.0 1481.8 L1046.5 1481.9 L1055.2 1481.9 L1064.1 1481.9 L1073.2 1481.9 L1082.2 1482.0 L1091.2 1482.0 L1100.0 1482.0 L1108.8 1482.0 L1117.8 1482.0 L1127.0 1482.0 L1136.2 1482.0 L1145.6 1482.0 L1155.0 1482.0 L1164.5 1482.0 L1174.0 1482.0 L1183.5 1482.0 L1193.0 1482.0 L1202.4 1482.0 L1211.8 1482.0" stroke="#7f00ff"/>
</g>
<g clip-path="url(#c31)" fill="none" stroke-width="6.6" stroke-linecap="round" stroke-linejoin="round">
<path d="M1452.0 1325.3 L1660.0 1325.3 L1700.0 1324.0 L1800.0 1324.4 L1880.0 1328.2 L1922.0 1333.0 L1940.7 1337.9 L1949.8 1341.6 L1961.6 1350.7 L1983.5 1365.3 L1993.5 1375.3 L1999.0 1380.2 L2009.0 1394.4 L2027.2 1419.0 L2034.5 1430.0 L2040.0 1436.5 L2048.2 1449.1 L2066.4 1472.8 L2072.8 1481.9 L2080.1 1489.2 L2091.0 1499.2 L2121.1 1506.0 L2125.5 1506.9 L2130.2 1502.9 L2136.6 1497.4 L2146.6 1486.5 L2167.6 1460.9 L2174.0 1450.0 L2185.8 1430.0 L2204.0 1404.5 L2210.4 1392.6 L2224.1 1376.2 L2248.7 1354.3 L2260.5 1346.1 L2266.9 1343.4 L2281.5 1335.2 L2311.6 1328.8 L2328.9 1327.9 L2358.0 1327.0 L2393.6 1326.1" stroke="#008000" stroke-dasharray="30 15.6 6.3 15.6" stroke-dashoffset="-39.5"/>
<path d="M1452.0 1325.4 L1640.0 1325.8 L1731.1 1326.9 L1804.0 1329.0 L1858.7 1332.0 L1895.1 1334.0 L1922.5 1334.6 L1945.0 1332.0 L1964.4 1327.9 L1992.6 1315.2 L2002.6 1307.9 L2028.2 1289.6 L2040.0 1281.4 L2060.0 1273.5 L2071.9 1270.5 L2079.0 1268.1 L2084.7 1270.1 L2112.9 1280.5 L2122.9 1287.8 L2152.1 1301.5 L2163.0 1307.9 L2195.8 1318.8 L2207.7 1321.2 L2241.4 1323.7 L2285.1 1324.6 L2330.0 1325.2 L2393.6 1325.2" stroke="#0000ff" stroke-dasharray="30.5 14.7" stroke-dashoffset="-16.3"/>
<path d="M1452.0 1325.3 L1468.0 1325.3 L1484.5 1325.3 L1501.3 1325.3 L1518.3 1325.3 L1535.2 1325.3 L1552.1 1325.2 L1568.5 1325.2 L1584.5 1325.2 L1599.8 1325.2 L1614.3 1325.3 L1627.7 1325.3 L1640.0 1325.3 L1651.0 1325.3 L1661.0 1325.4 L1670.0 1325.4 L1678.2 1325.5 L1685.7 1325.5 L1692.7 1325.6 L1699.3 1325.7 L1705.7 1325.7 L1711.9 1325.8 L1718.1 1325.9 L1724.5 1326.0 L1731.1 1326.1 L1737.9 1326.2 L1744.5 1326.3 L1751.0 1326.5 L1757.4 1326.6 L1763.7 1326.7 L1769.8 1326.9 L1775.8 1327.0 L1781.7 1327.2 L1787.5 1327.4 L1793.1 1327.5 L1798.6 1327.7 L1804.0 1327.9 L1809.3 1328.1 L1814.4 1328.3 L1819.4 1328.5 L1824.3 1328.8 L1829.0 1329.0 L1833.6 1329.3 L1838.1 1329.5 L1842.5 1329.8 L1846.7 1330.0 L1850.9 1330.3 L1854.8 1330.5 L1858.7 1330.7 L1862.4 1330.9 L1865.9 1331.1 L1869.3 1331.3 L1872.5 1331.5 L1875.6 1331.7 L1878.6 1331.9 L1881.5 1332.1 L1884.3 1332.3 L1887.1 1332.5 L1889.8 1332.7 L1892.4 1332.8 L1895.1 1333.0 L1897.7 1333.2 L1900.2 1333.3 L1902.6 1333.4 L1904.9 1333.6 L1907.2 1333.7 L1909.4 1333.9 L1911.5 1334.0 L1913.7 1334.1 L1915.9 1334.2 L1918.0 1334.2 L1920.2 1334.3 L1922.5 1334.3 L1924.8 1334.3 L1927.1 1334.3 L1929.3 1334.4 L1931.6 1334.4 L1933.9 1334.4 L1936.2 1334.3 L1938.4 1334.3 L1940.7 1334.2 L1943.0 1334.1 L1945.3 1333.9 L1947.5 1333.7 L1949.8 1333.4 L1952.1 1333.1 L1954.3 1332.7 L1956.6 1332.3 L1958.9 1331.9 L1961.2 1331.4 L1963.4 1330.9 L1965.7 1330.3 L1968.0 1329.7 L1970.3 1329.1 L1972.5 1328.4 L1974.8 1327.7 L1977.1 1327.0 L1979.4 1326.2 L1981.8 1325.3 L1984.2 1324.4 L1986.6 1323.4 L1989.0 1322.4 L1991.4 1321.4 L1993.7 1320.3 L1996.0 1319.2 L1998.3 1318.2 L2000.5 1317.1 L2002.5 1316.2 L2004.5 1315.2 L2006.3 1314.3 L2008.1 1313.4 L2009.7 1312.4 L2011.3 1311.5 L2012.8 1310.6 L2014.2 1309.8 L2015.6 1308.9 L2017.0 1308.0 L2018.4 1307.2 L2019.8 1306.4 L2021.2 1305.6 L2022.7 1304.8 L2024.2 1304.0 L2025.6 1303.3 L2027.1 1302.6 L2028.5 1301.9 L2030.0 1301.2 L2031.4 1300.5 L2032.8 1299.9 L2034.3 1299.3 L2035.7 1298.7 L2037.1 1298.1 L2038.6 1297.5 L2040.0 1297.0 L2041.5 1296.5 L2042.9 1296.0 L2044.4 1295.5 L2045.9 1295.1 L2047.4 1294.7 L2048.9 1294.2 L2050.4 1293.9 L2051.9 1293.5 L2053.3 1293.2 L2054.7 1292.9 L2056.0 1292.6 L2057.3 1292.4 L2058.5 1292.2 L2059.7 1292.0 L2060.8 1291.9 L2061.9 1291.8 L2062.9 1291.8 L2063.9 1291.7 L2064.9 1291.7 L2065.9 1291.7 L2066.9 1291.7 L2067.9 1291.7 L2069.0 1291.8 L2070.0 1291.8 L2071.0 1291.8 L2072.0 1291.9 L2072.9 1291.9 L2073.9 1291.9 L2074.8 1291.9 L2075.7 1292.0 L2076.7 1292.1 L2077.7 1292.2 L2078.8 1292.4 L2080.0 1292.6 L2081.4 1292.9 L2082.8 1293.3 L2084.4 1293.7 L2086.1 1294.2 L2087.9 1294.8 L2089.8 1295.4 L2091.8 1296.1 L2093.9 1296.8 L2095.9 1297.5 L2098.1 1298.3 L2100.2 1299.0 L2102.3 1299.8 L2104.4 1300.7 L2106.5 1301.5 L2108.6 1302.4 L2110.6 1303.3 L2112.7 1304.3 L2114.9 1305.3 L2117.0 1306.3 L2119.1 1307.3 L2121.3 1308.4 L2123.4 1309.4 L2125.6 1310.5 L2127.7 1311.4 L2129.9 1312.4 L2132.0 1313.3 L2134.2 1314.2 L2136.3 1315.0 L2138.6 1315.9 L2140.8 1316.7 L2143.0 1317.5 L2145.3 1318.3 L2147.5 1319.1 L2149.6 1319.8 L2151.7 1320.5 L2153.8 1321.2 L2155.7 1321.8 L2157.6 1322.4 L2159.4 1322.9 L2161.1 1323.4 L2162.7 1323.8 L2164.2 1324.2 L2165.7 1324.6 L2167.2 1324.9 L2168.6 1325.2 L2170.0 1325.5 L2171.4 1325.8 L2172.9 1326.1 L2174.3 1326.3 L2175.8 1326.6 L2177.3 1326.9 L2178.7 1327.1 L2180.1 1327.3 L2181.5 1327.6 L2182.9 1327.8 L2184.3 1328.0 L2185.8 1328.2 L2187.3 1328.3 L2188.8 1328.5 L2190.4 1328.6 L2192.2 1328.7 L2194.0 1328.8 L2195.9 1328.9 L2197.9 1328.9 L2200.0 1328.9 L2202.1 1328.9 L2204.3 1328.9 L2206.5 1328.9 L2208.8 1328.9 L2211.2 1328.8 L2213.6 1328.7 L2216.1 1328.7 L2218.7 1328.6 L2221.3 1328.5 L2224.0 1328.4 L2226.9 1328.3 L2229.8 1328.1 L2232.8 1328.0 L2235.9 1327.8 L2239.0 1327.6 L2242.1 1327.4 L2245.3 1327.3 L2248.5 1327.1 L2251.6 1326.9 L2254.7 1326.7 L2257.8 1326.6 L2260.6 1326.5 L2263.1 1326.3 L2265.4 1326.2 L2267.6 1326.0 L2269.8 1325.9 L2272.1 1325.8 L2274.6 1325.7 L2277.4 1325.5 L2280.7 1325.4 L2284.5 1325.3 L2289.0 1325.3 L2294.2 1325.2 L2300.3 1325.2 L2307.1 1325.1 L2314.6 1325.1 L2322.7 1325.1 L2331.2 1325.1 L2340.0 1325.1 L2349.0 1325.1 L2358.1 1325.1 L2367.3 1325.2 L2376.3 1325.2 L2385.1 1325.2 L2393.6 1325.2" stroke="#7f00ff"/>
</g>
<g clip-path="url(#c00)" fill="#ff0000">
<circle cx="293.3" cy="415.1" r="13.8"/>
<circle cx="339.4" cy="415.1" r="13.8"/>
<circle cx="385.5" cy="415.1" r="13.8"/>
<circle cx="431.6" cy="415.1" r="13.8"/>
<circle cx="477.9" cy="414.3" r="13.8"/>
<circle cx="524.0" cy="413.7" r="13.8"/>
<circle cx="570.1" cy="412.8" r="13.8"/>
<circle cx="616.2" cy="411.0" r="13.8"/>
<circle cx="662.5" cy="410.1" r="13.8"/>
<circle cx="708.6" cy="406.3" r="13.8"/>
<circle cx="754.7" cy="403.6" r="13.8"/>
<circle cx="800.6" cy="398.3" r="13.8"/>
<circle cx="845.7" cy="391.4" r="13.8"/>
<circle cx="890.6" cy="380.1" r="13.8"/>
<circle cx="932.5" cy="364.8" r="13.8"/>
<circle cx="975.0" cy="346.0" r="13.8"/>
<circle cx="1020.2" cy="328.2" r="13.8"/>
<circle cx="1061.0" cy="334.0" r="13.8"/>
<circle cx="1095.0" cy="362.4" r="13.8"/>
<circle cx="1131.0" cy="394.5" r="13.8"/>
<circle cx="1177.1" cy="412.2" r="13.8"/>
<circle cx="1223.4" cy="415.4" r="13.8"/>
</g>
<g clip-path="url(#c10)" fill="#ff0000">
<circle cx="293.3" cy="752.7" r="13.8"/>
<circle cx="339.6" cy="751.4" r="13.8"/>
<circle cx="385.7" cy="747.7" r="13.8"/>
<circle cx="431.7" cy="742.8" r="13.8"/>
<circle cx="476.9" cy="734.4" r="13.8"/>
<circle cx="520.6" cy="722.8" r="13.8"/>
<circle cx="564.0" cy="706.7" r="13.8"/>
<circle cx="605.2" cy="687.6" r="13.8"/>
<circle cx="643.8" cy="665.7" r="13.8"/>
<circle cx="683.8" cy="640.8" r="13.8"/>
<circle cx="726.1" cy="617.8" r="13.8"/>
<circle cx="769.8" cy="602.0" r="13.8"/>
<circle cx="815.9" cy="602.0" r="13.8"/>
<circle cx="857.2" cy="616.2" r="13.8"/>
<circle cx="895.5" cy="637.5" r="13.8"/>
<circle cx="932.9" cy="663.9" r="13.8"/>
<circle cx="971.6" cy="690.9" r="13.8"/>
<circle cx="1012.7" cy="716.8" r="13.8"/>
<circle cx="1055.0" cy="736.8" r="13.8"/>
<circle cx="1101.1" cy="748.7" r="13.8"/>
<circle cx="1147.4" cy="752.8" r="13.8"/>
<circle cx="1193.5" cy="754.1" r="13.8"/>
</g>
<g clip-path="url(#c20)" fill="#ff0000">
<circle cx="293.3" cy="942.8" r="13.8"/>
<circle cx="339.6" cy="943.4" r="13.8"/>
<circle cx="385.7" cy="943.9" r="13.8"/>
<circle cx="431.7" cy="945.0" r="13.8"/>
<circle cx="477.8" cy="947.4" r="13.8"/>
<circle cx="523.9" cy="950.1" r="13.8"/>
<circle cx="569.8" cy="955.1" r="13.8"/>
<circle cx="616.3" cy="960.0" r="13.8"/>
<circle cx="659.6" cy="968.0" r="13.8"/>
<circle cx="706.2" cy="979.3" r="13.8"/>
<circle cx="748.5" cy="992.1" r="13.8"/>
<circle cx="792.3" cy="1010.6" r="13.8"/>
<circle cx="833.1" cy="1028.5" r="13.8"/>
<circle cx="875.5" cy="1049.5" r="13.8"/>
<circle cx="918.0" cy="1068.8" r="13.8"/>
<circle cx="960.4" cy="1088.8" r="13.8"/>
<circle cx="1003.7" cy="1106.0" r="13.8"/>
<circle cx="1048.7" cy="1118.7" r="13.8"/>
<circle cx="1095.2" cy="1126.0" r="13.8"/>
<circle cx="1141.1" cy="1128.7" r="13.8"/>
<circle cx="1187.2" cy="1129.3" r="13.8"/>
</g>
<g clip-path="url(#c30)" fill="#ff0000">
<circle cx="293.3" cy="1277.4" r="13.8"/>
<circle cx="339.6" cy="1280.0" r="13.8"/>
<circle cx="385.7" cy="1283.8" r="13.8"/>
<circle cx="431.7" cy="1290.0" r="13.8"/>
<circle cx="476.9" cy="1301.5" r="13.8"/>
<circle cx="520.2" cy="1315.7" r="13.8"/>
<circle cx="561.6" cy="1333.4" r="13.8"/>
<circle cx="601.5" cy="1356.2" r="13.8"/>
<circle cx="638.9" cy="1382.0" r="13.8"/>
<circle cx="677.4" cy="1410.5" r="13.8"/>
<circle cx="716.1" cy="1438.2" r="13.8"/>
<circle cx="758.2" cy="1460.9" r="13.8"/>
<circle cx="804.5" cy="1476.1" r="13.8"/>
<circle cx="850.6" cy="1481.2" r="13.8"/>
<circle cx="896.6" cy="1481.8" r="13.8"/>
<circle cx="943.0" cy="1481.8" r="13.8"/>
<circle cx="989.1" cy="1482.0" r="13.8"/>
<circle cx="1035.0" cy="1482.0" r="13.8"/>
<circle cx="1081.0" cy="1482.0" r="13.8"/>
<circle cx="1127.4" cy="1482.0" r="13.8"/>
<circle cx="1173.5" cy="1482.0" r="13.8"/>
<circle cx="1220.5" cy="1482.0" r="13.8"/>
</g>
<g fill="#ff0000">
<circle cx="291.1" cy="242" r="13.8"/>
<circle cx="337.0" cy="242" r="13.8"/>
<circle cx="383.1" cy="242" r="13.8"/>
<circle cx="429.2" cy="242" r="13.8"/>
</g>
<g fill="none" stroke-linecap="round">
<path d="M578.1 242 H719.1" stroke="#0000ff" stroke-width="6.4" stroke-dasharray="31.4 13.6"/>
<path d="M290.5 320.7 H431.3" stroke="#339933" stroke-width="6.75" stroke-dasharray="29.6 15.5 6 16.2"/>
<path d="M572.9 319.9 H713.8" stroke="#7f00ff" stroke-width="8.3"/>
</g>
<text x="448.7" y="263.0" font-size="61.0" text-anchor="start">reg</text>
<text x="736.5" y="262.0" font-size="61.0" text-anchor="start">E0</text>
<text x="448.0" y="341.3" font-size="63.0" text-anchor="start">ES</text>
<text x="730.0" y="341.0" font-size="63.0" text-anchor="start">EL</text>
<text x="275.5" y="145.6" font-size="84.0" text-anchor="start" class="i">rw</text>
<text x="923" y="116" font-size="84">ε<tspan font-size="57.5" dy="21.5">1</tspan><tspan dy="-21.5"> : </tspan><tspan dx="1">ε</tspan><tspan font-size="57.5" dy="21.5">2</tspan><tspan dy="-21.5"> : </tspan><tspan dx="1">ε</tspan><tspan font-size="57.5" dy="21.5">3</tspan><tspan dy="-14.5"> = </tspan><tspan dx="1.5" dy="-7">10</tspan><tspan dx="-1.3"> : 1 :</tspan><tspan dx="4"> 10</tspan></text>
<text x="2392.5" y="155.0" font-size="84.6" text-anchor="end">rel. dev. <tspan dy="6">×</tspan><tspan dy="-6"> 10</tspan></text>
<text x="1301.3" y="1743.5" font-size="84.0" text-anchor="start" class="i">r</text>
<text x="1121.0" y="452.0" font-size="84" text-anchor="end"><tspan class="i">z</tspan><tspan dx="2.5"> = ±10</tspan></text>
<text x="1190.0" y="635.0" font-size="84" text-anchor="end"><tspan class="i">z</tspan><tspan dx="2.5"> = ±1</tspan></text>
<text x="1188.5" y="989.0" font-size="84" text-anchor="end"><tspan class="i">z</tspan><tspan dx="2.5"> = ±0.5</tspan></text>
<text x="1192.0" y="1334.8" font-size="84" text-anchor="end"><tspan class="i">z</tspan><tspan dx="2.5"> = 0</tspan></text>
</svg></body></html>
